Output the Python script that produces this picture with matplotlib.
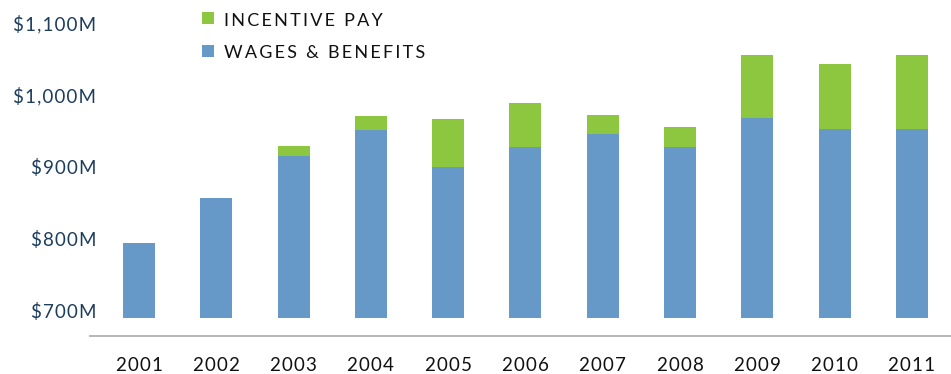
import matplotlib
matplotlib.use("Agg")
import matplotlib.pyplot as plt
from matplotlib.patches import Rectangle

# Annual compensation, in millions of dollars
years = ["2001", "2002", "2003", "2004", "2005", "2006",
         "2007", "2008", "2009", "2010", "2011"]
wages_benefits = [804, 867, 925, 961, 910, 937, 956, 937, 978, 962, 962]
incentive_pay = [0, 0, 14, 19, 66, 62, 26, 28, 87, 91, 103]

y_ticks = [700, 800, 900, 1000, 1100]
y_tick_labels = ["$700M", "$800M", "$900M", "$1,000M", "$1,100M"]

BLUE = "#6699c8"
GREEN = "#8dc63f"
NAVY = "#1d3d5e"
BASE = 700

plt.rcParams["font.family"] = ["Lato", "DejaVu Sans"]


def tracked(text, gap="\u200a"):
    """Spread the letters of a label apart a little."""
    return gap.join(text)


W, H = 951, 374
fig = plt.figure(figsize=(W / 100, H / 100), dpi=100)
ax = fig.add_axes([90 / W, (H - 336) / H, 861 / W, 336 / H])

x = list(range(len(years)))
wage_heights = [w - BASE for w in wages_benefits]
ax.bar(x, wage_heights, bottom=BASE, width=0.414, color=BLUE, linewidth=0)
ax.bar(x, incentive_pay, bottom=wages_benefits, width=0.414, color=GREEN,
       linewidth=0)

ax.set_xlim(-0.634, 10.505)
ax.set_ylim(BASE - 18 / 0.72, BASE + 318 / 0.72)

for side in ("top", "right", "left"):
    ax.spines[side].set_visible(False)
ax.spines["bottom"].set_color("#b5b5b5")
ax.spines["bottom"].set_linewidth(1.4)

ax.set_xticks(x)
ax.set_xticklabels([tracked(y) for y in years], fontsize=13.5, color="#111111")
ax.tick_params(axis="x", length=0, pad=15)

ax.set_yticks(y_ticks)
ax.set_yticklabels([tracked(t) for t in y_tick_labels], fontsize=13.5,
                   color=NAVY)
ax.tick_params(axis="y", length=0, pad=-4.5)
for lbl in ax.get_yticklabels():
    lbl.set_verticalalignment("baseline")

# Legend drawn as squares with spaced capitals
legend_items = [("INCENTIVE PAY", GREEN, 18, 26),
                ("WAGES & BENEFITS", BLUE, 51, 58)]
for label, color, square_y, baseline_y in legend_items:
    fig.patches.append(Rectangle((202 / W, (H - square_y - 6) / H),
                                 12 / W, 12 / H,
                                 transform=fig.transFigure, color=color,
                                 linewidth=0))
    fig.text(224 / W, (H - baseline_y) / H, tracked(label, "\u2009"),
             fontsize=13, color="#111111", va="baseline", ha="left")

fig.savefig("out.png", dpi=100)
